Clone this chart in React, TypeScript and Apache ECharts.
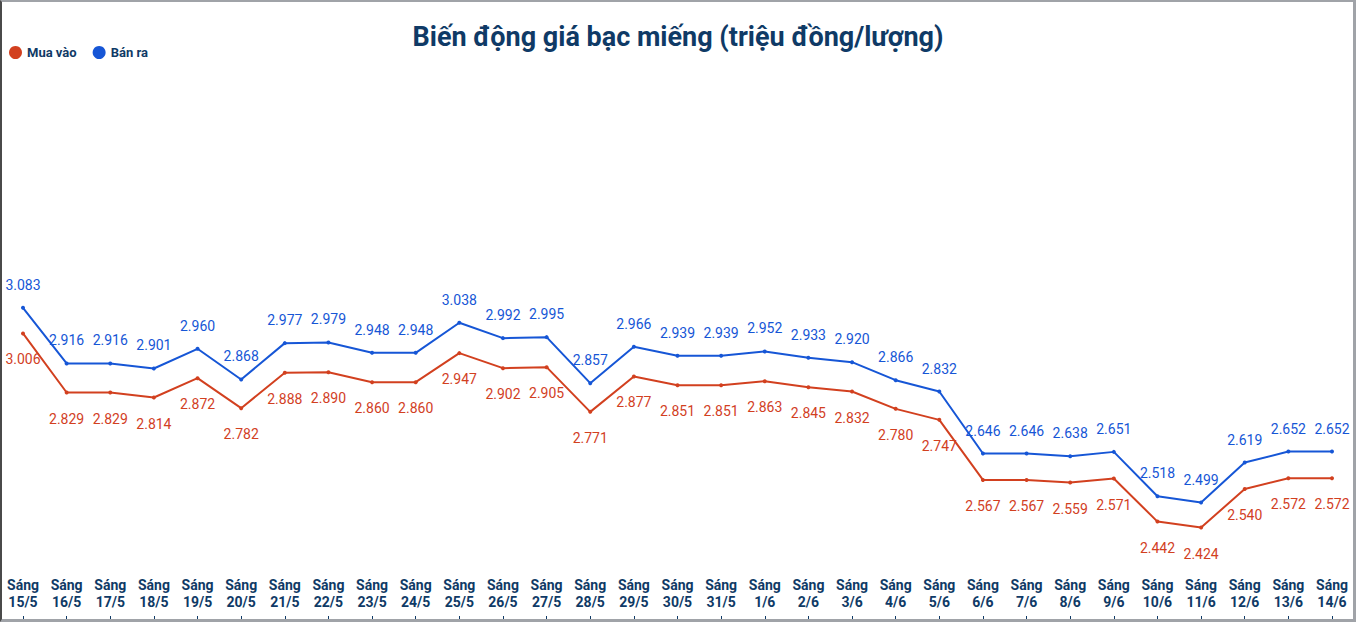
import React, { useEffect, useRef } from "react";
import * as echarts from "echarts";

const categories = [
  "15/5", "16/5", "17/5", "18/5", "19/5", "20/5", "21/5", "22/5", "23/5", "24/5",
  "25/5", "26/5", "27/5", "28/5", "29/5", "30/5", "31/5", "1/6", "2/6", "3/6",
  "4/6", "5/6", "6/6", "7/6", "8/6", "9/6", "10/6", "11/6", "12/6", "13/6", "14/6",
];
const muaVao = [
  3.006, 2.829, 2.829, 2.814, 2.872, 2.782, 2.888, 2.89, 2.86, 2.86,
  2.947, 2.902, 2.905, 2.771, 2.877, 2.851, 2.851, 2.863, 2.845, 2.832,
  2.78, 2.747, 2.567, 2.567, 2.559, 2.571, 2.442, 2.424, 2.54, 2.572, 2.572,
];
const banRa = [
  3.083, 2.916, 2.916, 2.901, 2.96, 2.868, 2.977, 2.979, 2.948, 2.948,
  3.038, 2.992, 2.995, 2.857, 2.966, 2.939, 2.939, 2.952, 2.933, 2.92,
  2.866, 2.832, 2.646, 2.646, 2.638, 2.651, 2.518, 2.499, 2.619, 2.652, 2.652,
];

const RED = "#d2401f";
const BLUE = "#1656d6";
const NAVY = "#0f3a66";
const FONT = "Roboto, 'Noto Sans', sans-serif";

export default function App() {
  const ref = useRef<HTMLDivElement>(null);
  useEffect(() => {
    document.body.style.margin = "0";
    const chart = echarts.init(ref.current!, null, { renderer: "svg" });
    chart.setOption({
      animation: false,
      backgroundColor: "#ffffff",
      title: {
        text: "Biến động giá bạc miếng (triệu đồng/lượng)",
        left: "center",
        top: 18,
        textStyle: { color: NAVY, fontSize: 27, fontWeight: "bold", fontFamily: FONT },
      },
      legend: {
        left: 4,
        top: 41,
        icon: "circle",
        itemWidth: 13,
        itemHeight: 13,
        itemGap: 16,
        itemStyle: { borderWidth: 0 },
        textStyle: { color: NAVY, fontSize: 13, fontWeight: "bold", fontFamily: FONT },
        data: ["Mua vào", "Bán ra"],
      },
      grid: { left: 23, right: 24, top: 68.6, bottom: 3, containLabel: false },
      xAxis: {
        type: "category",
        data: categories,
        boundaryGap: false,
        axisLine: { show: false },
        axisTick: { show: true, inside: true, length: 3, lineStyle: { color: NAVY } },
        splitLine: { show: false },
        axisLabel: {
          inside: true,
          margin: 9,
          interval: 0,
          color: NAVY,
          fontSize: 14,
          fontWeight: "bold",
          fontFamily: FONT,
          lineHeight: 17,
          formatter: (v: string) => "Sáng\n" + v,
        },
      },
      yAxis: {
        type: "value",
        min: 2.15,
        max: 3.8,
        show: false,
        splitLine: { show: false },
      },
      series: [
        {
          name: "Mua vào",
          type: "line",
          data: muaVao,
          color: RED,
          symbol: "circle",
          symbolSize: 4,
          lineStyle: { width: 2, color: RED },
          itemStyle: { color: RED },
          label: {
            show: true,
            position: "bottom",
            distance: 17,
            color: RED,
            fontSize: 14,
            fontFamily: FONT,
            formatter: (p: any) => p.value.toFixed(3),
          },
        },
        {
          name: "Bán ra",
          type: "line",
          data: banRa,
          color: BLUE,
          symbol: "circle",
          symbolSize: 4,
          lineStyle: { width: 2, color: BLUE },
          itemStyle: { color: BLUE },
          label: {
            show: true,
            position: "top",
            distance: 14,
            color: BLUE,
            fontSize: 14,
            fontFamily: FONT,
            formatter: (p: any) => p.value.toFixed(3),
          },
        },
      ],
    });
    return () => chart.dispose();
  }, []);
  return (
    <div style={{ position: "relative", width: 1356, height: 622 }}>
      <div ref={ref} style={{ width: 1356, height: 622 }} />
      <div
        style={{
          position: "absolute",
          left: 0,
          top: 0,
          width: 1356,
          height: 622,
          boxSizing: "border-box",
          borderTop: "2px solid #a0a3a8",
          borderLeft: "2px solid #4a4a4a",
          borderRight: "3px solid #a0a3a8",
          borderBottom: "3px solid #a0a3a8",
          pointerEvents: "none",
        }}
      />
    </div>
  );
}
